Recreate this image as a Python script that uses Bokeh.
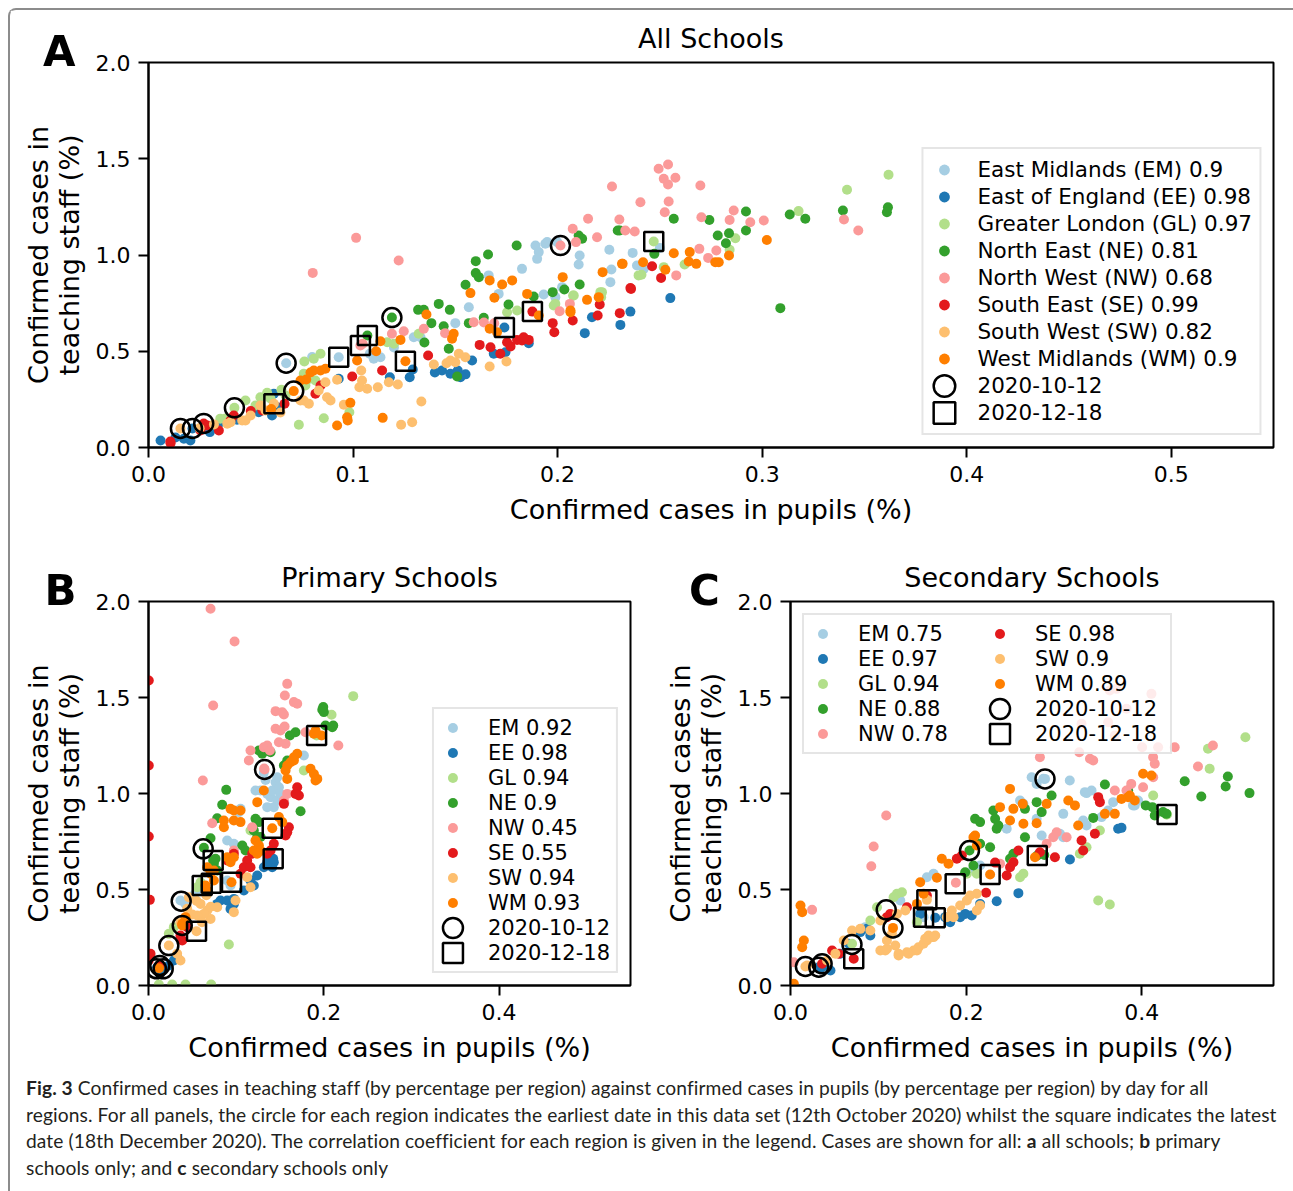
from bokeh.plotting import figure
from bokeh.models import (Range1d, FixedTicker, NumeralTickFormatter, Legend,
                          LegendItem, Div)
from bokeh.layouts import column, row
from bokeh.embed import file_html
from bokeh.resources import INLINE

# ---------------- categories / styling lookups ----------------
regions = ["EM", "EE", "GL", "NE", "NW", "SE", "SW", "WM"]
colors = ["#a6cee3", "#1f78b4", "#b2df8a", "#33a02c", "#fb9a99", "#e31a1c", "#fdbf6f", "#ff7f00"]
labels_a = ["East Midlands (EM) 0.9", "East of England (EE) 0.98", "Greater London (GL) 0.97",
            "North East (NE) 0.81", "North West (NW) 0.68", "South East (SE) 0.99",
            "South West (SW) 0.82", "West Midlands (WM) 0.9"]
labels_b = ["EM 0.92", "EE 0.98", "GL 0.94", "NE 0.9", "NW 0.45", "SE 0.55", "SW 0.94", "WM 0.93"]
labels_c = ["EM 0.75", "EE 0.97", "GL 0.94", "NE 0.88", "NW 0.78", "SE 0.98", "SW 0.9", "WM 0.89"]
date_first = "2020-10-12"
date_last = "2020-12-18"
xticks_a = [0.0, 0.1, 0.2, 0.3, 0.4, 0.5]
xticks_bc = [0.0, 0.2, 0.4]
yticks = [0.0, 0.5, 1.0, 1.5, 2.0]
panel_letters = ["A", "B", "C"]

# ---------------- Panel A: all schools ----------------
a_em_x = [0.0673, 0.093, 0.1082, 0.1134, 0.1101, 0.1297, 0.133, 0.150, 0.1566, 0.1663, 0.1712, 0.1826, 0.1892, 0.194, 0.1998, 0.1908, 0.190, 0.1932, 0.1989, 0.2022, 0.2108, 0.2103, 0.2253, 0.2263, 0.2258, 0.2367, 0.2388, 0.2421, 0.250, 0.1949, 0.080, 0.120]
a_em_y = [0.438, 0.469, 0.487, 0.469, 0.461, 0.573, 0.573, 0.646, 0.729, 0.894, 0.798, 0.928, 1.049, 1.058, 1.067, 1.015, 0.980, 0.795, 0.781, 0.833, 0.997, 0.951, 1.027, 0.925, 0.859, 1.011, 0.945, 0.928, 1.037, 1.067, 0.470, 0.520]
a_ee_x = [0.0215, 0.0173, 0.0205, 0.030, 0.0352, 0.0433, 0.0539, 0.0604, 0.0613, 0.0629, 0.093, 0.118, 0.1277, 0.1292, 0.1435, 0.1476, 0.1512, 0.1525, 0.1582, 0.1688, 0.1745, 0.1859, 0.174, 0.2133, 0.2168, 0.2307, 0.2356, 0.2551, 0.140, 0.155, 0.0059, 0.0132]
a_ee_y = [0.099, 0.045, 0.036, 0.080, 0.131, 0.144, 0.183, 0.166, 0.279, 0.209, 0.357, 0.365, 0.365, 0.405, 0.400, 0.383, 0.400, 0.365, 0.452, 0.487, 0.495, 0.542, 0.623, 0.594, 0.677, 0.637, 0.706, 0.776, 0.390, 0.380, 0.036, 0.052]
a_gl_x = [0.042, 0.0474, 0.0547, 0.058, 0.0735, 0.0857, 0.0982, 0.0759, 0.0776, 0.0762, 0.0808, 0.0841, 0.1167, 0.120, 0.1321, 0.1753, 0.1802, 0.1981, 0.1989, 0.2076, 0.2079, 0.2209, 0.2213, 0.2217, 0.2396, 0.241, 0.2519, 0.2621, 0.2841, 0.2869, 0.3178, 0.3415, 0.3618, 0.247, 0.0351, 0.065, 0.0377, 0.0523, 0.0596, 0.0670, 0.0767, 0.0816]
a_gl_y = [0.206, 0.244, 0.261, 0.284, 0.118, 0.152, 0.183, 0.383, 0.352, 0.447, 0.461, 0.487, 0.547, 0.539, 0.591, 0.703, 0.712, 0.738, 0.746, 0.790, 0.790, 0.807, 0.781, 0.807, 0.894, 0.897, 0.937, 0.951, 1.027, 1.087, 1.228, 1.339, 1.417, 1.070, 0.150, 0.300, 0.151, 0.218, 0.255, 0.270, 0.322, 0.348]
a_ne_x = [0.119, 0.107, 0.1318, 0.1346, 0.1383, 0.1419, 0.1443, 0.1473, 0.1349, 0.1468, 0.1509, 0.1566, 0.155, 0.160, 0.1615, 0.160, 0.1639, 0.166, 0.176, 0.180, 0.1883, 0.1976, 0.2033, 0.2108, 0.2103, 0.212, 0.2304, 0.2294, 0.2473, 0.2568, 0.2742, 0.2783, 0.2838, 0.2823, 0.2921, 0.2921, 0.3089, 0.3135, 0.3211, 0.3395, 0.3615, 0.361]
a_ne_y = [0.675, 0.582, 0.715, 0.715, 0.646, 0.746, 0.630, 0.715, 0.545, 0.513, 0.369, 0.646, 0.845, 0.906, 0.885, 0.968, 0.674, 1.003, 0.743, 1.049, 0.784, 0.807, 0.821, 0.847, 1.101, 1.084, 1.127, 1.127, 1.006, 1.188, 1.182, 1.101, 1.113, 1.061, 1.226, 1.127, 0.724, 1.210, 1.188, 1.231, 1.248, 1.222]
a_nw_x = [0.2014, 0.1015, 0.1223, 0.0803, 0.1047, 0.119, 0.1248, 0.1346, 0.145, 0.159, 0.164, 0.169, 0.201, 0.206, 0.209, 0.2074, 0.2149, 0.2193, 0.2302, 0.2331, 0.2377, 0.2266, 0.2405, 0.2494, 0.254, 0.2519, 0.2576, 0.254, 0.2543, 0.2524, 0.2698, 0.2703, 0.2861, 0.2841, 0.2942, 0.3008, 0.340, 0.347, 0.2693, 0.2776, 0.2736, 0.258, 0.1036]
a_nw_y = [1.049, 1.089, 0.971, 0.907, 0.539, 0.591, 0.604, 0.617, 0.594, 0.651, 0.649, 0.645, 0.708, 0.746, 1.067, 1.136, 1.188, 1.092, 1.184, 1.127, 1.122, 1.356, 1.274, 1.448, 1.470, 1.396, 1.401, 1.366, 1.278, 1.222, 1.361, 1.196, 1.231, 1.182, 1.170, 1.179, 1.184, 1.127, 1.032, 1.023, 0.985, 0.894, 0.530]
a_se_x = [0.027, 0.0108, 0.0287, 0.0344, 0.0417, 0.0665, 0.0816, 0.0841, 0.0996, 0.1142, 0.1367, 0.1619, 0.1672, 0.172, 0.177, 0.1753, 0.1802, 0.1826, 0.1859, 0.1834, 0.1877, 0.1976, 0.1984, 0.2074, 0.2196, 0.2206, 0.2304, 0.2356, 0.2359, 0.2462, 0.2506, 0.050, 0.0107, 0.0254, 0.0401, 0.0557]
a_se_y = [0.125, 0.022, 0.114, 0.088, 0.166, 0.227, 0.279, 0.322, 0.369, 0.400, 0.478, 0.533, 0.521, 0.487, 0.525, 0.547, 0.559, 0.556, 0.559, 0.573, 0.706, 0.646, 0.599, 0.660, 0.686, 0.743, 0.698, 0.828, 0.824, 0.942, 0.881, 0.190, 0.031, 0.088, 0.140, 0.192]
a_sw_x = [0.0156, 0.0385, 0.0401, 0.0458, 0.0499, 0.0547, 0.0613, 0.0759, 0.0784, 0.089, 0.0873, 0.0832, 0.0865, 0.0922, 0.0955, 0.1031, 0.1044, 0.104, 0.1069, 0.1121, 0.1175, 0.1219, 0.1235, 0.1289, 0.1334, 0.1395, 0.1457, 0.150, 0.1476, 0.1517, 0.1549, 0.1668, 0.175, 0.025, 0.032, 0.0474, 0.0572, 0.0645, 0.0743]
a_sw_y = [0.099, 0.123, 0.131, 0.140, 0.166, 0.218, 0.227, 0.244, 0.227, 0.244, 0.261, 0.296, 0.339, 0.352, 0.222, 0.313, 0.348, 0.400, 0.305, 0.313, 0.339, 0.327, 0.118, 0.131, 0.239, 0.431, 0.438, 0.443, 0.452, 0.487, 0.469, 0.421, 0.447, 0.100, 0.120, 0.140, 0.192, 0.182, 0.244]
a_wm_x = [0.071, 0.0771, 0.0808, 0.0865, 0.0922, 0.0971, 0.0974, 0.0987, 0.102, 0.1113, 0.1134, 0.1145, 0.1232, 0.1256, 0.1359, 0.1484, 0.1492, 0.1574, 0.1668, 0.1691, 0.1704, 0.1668, 0.1729, 0.1778, 0.1851, 0.1908, 0.2025, 0.2063, 0.2063, 0.2144, 0.2201, 0.222, 0.2315, 0.2318, 0.2418, 0.2527, 0.2568, 0.2641, 0.2646, 0.2678, 0.2771, 0.2788, 0.2838, 0.3023, 0.060, 0.0743, 0.0792, 0.0841]
a_wm_y = [0.293, 0.353, 0.400, 0.409, 0.114, 0.157, 0.140, 0.232, 0.452, 0.500, 0.552, 0.154, 0.559, 0.448, 0.691, 0.565, 0.591, 0.802, 0.868, 0.778, 0.599, 0.617, 0.847, 0.868, 0.798, 0.686, 0.885, 0.703, 0.712, 0.767, 0.781, 0.911, 0.954, 0.954, 0.962, 0.923, 1.009, 0.966, 1.015, 0.954, 0.962, 0.962, 0.997, 1.078, 0.200, 0.348, 0.390, 0.400]
a_first_x = [0.0673, 0.0215, 0.042, 0.119, 0.2014, 0.027, 0.0156, 0.071]
a_first_y = [0.438, 0.099, 0.206, 0.675, 1.049, 0.125, 0.099, 0.293]
a_last_x = [0.093, 0.174, 0.247, 0.107, 0.1036, 0.1877, 0.0613, 0.1256]
a_last_y = [0.469, 0.623, 1.070, 0.582, 0.530, 0.706, 0.227, 0.448]

# ---------------- Panel B: primary schools ----------------
b_em_x = [0.0898, 0.0974, 0.105, 0.1031, 0.0365, 0.0422, 0.1221, 0.1279, 0.1355, 0.1393, 0.143, 0.1469, 0.1412, 0.145, 0.1469, 0.1488, 0.1355, 0.1316, 0.1336, 0.1773, 0.0898, 0.0936, 0.059, 0.0527, 0.150, 0.155]
b_em_y = [0.755, 0.738, 0.921, 0.903, 0.443, 0.425, 1.016, 1.016, 0.998, 0.981, 0.929, 0.964, 1.016, 1.059, 1.085, 1.033, 0.929, 1.110, 1.070, 1.198, 0.547, 0.521, 0.500, 0.475, 1.000, 0.950]
b_ee_x = [0.143, 0.1412, 0.1355, 0.1317, 0.0822, 0.0898, 0.0974, 0.0936, 0.0974, 0.0784, 0.1164, 0.1241, 0.1202, 0.1088, 0.0099, 0.0137, 0.0232, 0.0289, 0.0327, 0.1423]
b_ee_y = [0.642, 0.616, 0.642, 0.616, 0.443, 0.443, 0.425, 0.399, 0.451, 0.425, 0.547, 0.573, 0.521, 0.495, 0.095, 0.078, 0.104, 0.130, 0.147, 0.660]
b_gl_x = [0.2336, 0.2089, 0.0917, 0.0715, 0.0422, 0.027, 0.0118, 0.0556, 0.0594, 0.0232, 0.0289, 0.1164, 0.1888, 0.1773, 0.1918]
b_gl_y = [1.507, 1.410, 0.214, 0.005, 0.005, 0.005, 0.005, 0.512, 0.538, 0.269, 0.304, 0.807, 1.311, 1.120, 1.302]
b_ne_x = [0.1994, 0.2001, 0.1983, 0.2097, 0.202, 0.2108, 0.1678, 0.1613, 0.1583, 0.1545, 0.1735, 0.1393, 0.1298, 0.1259, 0.0887, 0.0841, 0.0784, 0.0708, 0.0632, 0.0765, 0.0746, 0.0784, 0.1221, 0.126, 0.107, 0.1107, 0.1202, 0.1241, 0.1279, 0.0738]
b_ne_y = [1.450, 1.424, 1.436, 1.345, 1.354, 1.354, 1.319, 1.302, 1.172, 1.146, 0.908, 1.215, 1.207, 1.224, 1.019, 0.941, 0.871, 0.767, 0.717, 0.660, 0.634, 0.599, 0.868, 0.851, 0.729, 0.703, 0.807, 0.773, 0.773, 0.651]
b_nw_x = [0.0708, 0.0982, 0.0738, 0.062, 0.1583, 0.1556, 0.1659, 0.1697, 0.145, 0.1545, 0.1526, 0.145, 0.1553, 0.1507, 0.1488, 0.1564, 0.1316, 0.1355, 0.1385, 0.1164, 0.1145, 0.2166, 0.1792, 0.0727, 0.132, 0.1583, 0.1545, 0.1183, 0.0974, 0.1324]
b_nw_y = [1.962, 1.792, 1.458, 1.068, 1.571, 1.510, 1.476, 1.467, 1.429, 1.411, 1.423, 1.337, 1.349, 1.328, 1.267, 1.259, 1.241, 1.250, 1.224, 1.224, 1.172, 1.250, 1.319, 0.845, 1.130, 0.998, 0.963, 0.824, 0.703, 1.125]
b_se_x = [0.0003, 0.0003, 0.0003, 0.0015, 0.0023, 0.1697, 0.1716, 0.1678, 0.1545, 0.1602, 0.1583, 0.1564, 0.143, 0.1393, 0.1355, 0.1183, 0.1126, 0.1088, 0.1164, 0.105, 0.0898, 0.0974, 0.0442, 0.0385, 0.0365, 0.0003, 0.0129]
b_se_y = [1.589, 1.146, 0.776, 0.446, 0.165, 1.033, 0.990, 0.998, 0.946, 0.824, 0.798, 0.781, 0.738, 0.703, 0.686, 0.686, 0.651, 0.616, 0.616, 0.582, 0.651, 0.686, 0.304, 0.234, 0.260, 0.130, 0.104]
b_sw_x = [0.0594, 0.067, 0.0708, 0.0632, 0.0556, 0.0993, 0.0974, 0.0784, 0.0365, 0.0327, 0.0548, 0.0365, 0.0442, 0.1126, 0.1164, 0.0232, 0.046, 0.055, 0.066, 0.071, 0.050, 0.061]
b_sw_y = [0.425, 0.391, 0.347, 0.373, 0.365, 0.443, 0.382, 0.408, 0.130, 0.165, 0.283, 0.330, 0.400, 0.564, 0.512, 0.208, 0.460, 0.440, 0.470, 0.410, 0.370, 0.330]
b_wm_x = [0.1975, 0.1888, 0.1906, 0.1697, 0.1659, 0.1621, 0.1583, 0.1659, 0.1564, 0.1583, 0.1849, 0.1888, 0.1926, 0.1906, 0.1316, 0.1241, 0.1488, 0.1526, 0.1221, 0.126, 0.1202, 0.1279, 0.1241, 0.0936, 0.0974, 0.105, 0.105, 0.0974, 0.086, 0.086, 0.0898, 0.0936, 0.0974, 0.067, 0.0708, 0.0746, 0.0746, 0.0651, 0.067, 0.0947, 0.0385, 0.0422, 0.012, 0.1412, 0.0385]
b_wm_y = [1.302, 1.311, 1.328, 1.207, 1.189, 1.163, 1.146, 1.172, 1.120, 1.076, 1.129, 1.102, 1.076, 1.068, 1.016, 0.955, 0.877, 0.851, 0.755, 0.729, 0.703, 0.703, 0.686, 0.920, 0.911, 0.911, 0.851, 0.859, 0.824, 0.859, 0.668, 0.642, 0.668, 0.616, 0.582, 0.599, 0.547, 0.521, 0.495, 0.538, 0.321, 0.356, 0.090, 0.819, 0.313]
b_first_x = [0.0373, 0.0168, 0.0232, 0.0624, 0.1324, 0.0129, 0.0091, 0.0385]
b_first_y = [0.439, 0.087, 0.208, 0.712, 1.125, 0.104, 0.087, 0.313]
b_last_x = [0.0716, 0.1423, 0.1918, 0.0738, 0.0613, 0.0947, 0.0548, 0.1412]
b_last_y = [0.533, 0.660, 1.302, 0.651, 0.521, 0.538, 0.283, 0.819]

# ---------------- Panel C: secondary schools ----------------
c_em_x = [0.2746, 0.2803, 0.318, 0.3352, 0.3428, 0.3106, 0.3542, 0.390, 0.3958, 0.2614, 0.2652, 0.2462, 0.2803, 0.286, 0.3068, 0.3106, 0.2159, 0.2083, 0.1629, 0.1553, 0.125, 0.0852, 0.3333, 0.3371, 0.3674, 0.3617, 0.2879, 0.3371, 0.392, 0.2898, 0.1515]
c_em_y = [1.085, 1.050, 1.068, 1.007, 1.016, 0.894, 0.877, 0.938, 0.964, 0.964, 0.946, 0.816, 0.868, 0.781, 0.790, 0.772, 0.625, 0.608, 0.582, 0.564, 0.443, 0.304, 0.859, 0.833, 0.955, 0.911, 1.077, 1.002, 0.938, 1.076, 0.356]
c_ee_x = [0.2595, 0.2348, 0.1989, 0.2064, 0.1932, 0.1818, 0.1761, 0.3182, 0.3731, 0.3769, 0.1477, 0.0871, 0.0795, 0.0909, 0.0663, 0.0568, 0.036, 0.0455, 0.2159, 0.1648, 0.0322]
c_ee_y = [0.481, 0.439, 0.373, 0.365, 0.356, 0.330, 0.356, 0.656, 0.816, 0.821, 0.373, 0.295, 0.278, 0.260, 0.217, 0.165, 0.095, 0.078, 0.425, 0.353, 0.095]
c_gl_x = [0.3504, 0.3636, 0.4754, 0.4773, 0.413, 0.428, 0.3523, 0.3295, 0.3371, 0.2614, 0.2652, 0.2121, 0.2008, 0.1212, 0.1269, 0.1174, 0.0985, 0.0909, 0.144, 0.0701, 0.518, 0.4288]
c_gl_y = [0.443, 0.422, 1.233, 1.129, 0.990, 0.891, 0.807, 0.686, 0.720, 0.564, 0.582, 0.582, 0.582, 0.478, 0.486, 0.460, 0.408, 0.339, 0.330, 0.217, 1.293, 0.891]
c_ne_x = [0.5227, 0.498, 0.4955, 0.4678, 0.4489, 0.4045, 0.4148, 0.4242, 0.358, 0.3845, 0.3447, 0.2973, 0.2803, 0.286, 0.267, 0.231, 0.233, 0.2348, 0.2367, 0.2102, 0.2159, 0.267, 0.2273, 0.2159, 0.1989, 0.2083, 0.2538, 0.25, 0.289, 0.4121, 0.428, 0.2038, 0.281]
c_ne_y = [1.002, 1.089, 1.036, 0.984, 1.064, 0.938, 0.885, 0.903, 1.047, 1.016, 0.873, 0.990, 0.955, 0.903, 0.920, 0.911, 0.868, 0.816, 0.833, 0.868, 0.851, 0.772, 0.720, 0.738, 0.590, 0.625, 0.686, 0.660, 0.680, 0.929, 0.894, 0.703, 0.677]
c_nw_x = [0.109, 0.0947, 0.092, 0.0246, 0.0038, 0.284, 0.3288, 0.341, 0.3447, 0.4004, 0.4186, 0.4129, 0.4148, 0.4375, 0.481, 0.464, 0.388, 0.4015, 0.413, 0.3693, 0.3826, 0.3031, 0.3144, 0.2992, 0.2917, 0.2386, 0.2538, 0.1883, 0.3636, 0.3712, 0.3826, 0.411, 0.3314, 0.3617, 0.3693]
c_nw_y = [0.885, 0.724, 0.621, 0.394, 0.121, 1.189, 1.215, 1.181, 1.172, 1.241, 1.241, 1.189, 1.155, 1.241, 1.250, 1.141, 1.050, 1.033, 1.085, 1.016, 1.016, 0.798, 0.772, 0.772, 0.738, 0.634, 0.642, 0.535, 1.536, 1.545, 1.441, 1.519, 1.363, 1.371, 1.302]
c_se_x = [0.3504, 0.3523, 0.3314, 0.3333, 0.3466, 0.3011, 0.2595, 0.2538, 0.25, 0.2462, 0.233, 0.2227, 0.1894, 0.1951, 0.1553, 0.1326, 0.1136, 0.1098, 0.0474, 0.0549, 0.284, 0.036, 0.072]
c_se_y = [0.981, 0.955, 0.755, 0.703, 0.790, 0.668, 0.703, 0.642, 0.616, 0.573, 0.640, 0.483, 0.660, 0.677, 0.469, 0.408, 0.373, 0.356, 0.182, 0.165, 0.694, 0.113, 0.139]
c_sw_x = [0.1023, 0.1099, 0.1193, 0.1231, 0.1326, 0.1402, 0.1458, 0.1553, 0.161, 0.1648, 0.1837, 0.1932, 0.2008, 0.2045, 0.2121, 0.2159, 0.2121, 0.1023, 0.0909, 0.0795, 0.0701, 0.0606, 0.0511, 0.0417, 0.019, 0.1307, 0.1212, 0.178, 0.1856, 0.1155, 0.1098, 0.108, 0.1231, 0.1345, 0.144, 0.1515, 0.1572, 0.1629, 0.1534, 0.017, 0.1553]
c_sw_y = [0.182, 0.191, 0.208, 0.165, 0.173, 0.182, 0.199, 0.234, 0.252, 0.260, 0.391, 0.417, 0.443, 0.469, 0.391, 0.417, 0.478, 0.339, 0.286, 0.295, 0.286, 0.234, 0.165, 0.130, 0.104, 0.391, 0.373, 0.356, 0.356, 0.269, 0.234, 0.182, 0.156, 0.165, 0.182, 0.217, 0.260, 0.252, 0.243, 0.099, 0.446]
c_wm_x = [0.25, 0.2386, 0.25, 0.2652, 0.4015, 0.411, 0.3769, 0.3845, 0.392, 0.3163, 0.3239, 0.2917, 0.358, 0.3693, 0.3276, 0.2102, 0.2784, 0.1723, 0.1799, 0.1667, 0.1477, 0.0114, 0.0133, 0.0152, 0.0133, 0.0038, 0.2538, 0.2644, 0.2803, 0.2083, 0.2121, 0.1515, 0.144, 0.3864, 0.1167, 0.2273]
c_wm_y = [1.024, 0.929, 0.859, 0.842, 1.103, 1.094, 0.972, 0.981, 0.964, 0.964, 0.938, 0.946, 0.894, 0.894, 0.833, 0.781, 0.668, 0.660, 0.634, 0.561, 0.538, 0.417, 0.382, 0.234, 0.199, 0.009, 0.920, 0.946, 0.845, 0.772, 0.729, 0.478, 0.425, 0.990, 0.300, 0.578]
c_first_x = [0.2898, 0.0322, 0.070, 0.2038, 0.109, 0.036, 0.017, 0.1167]
c_first_y = [1.076, 0.095, 0.214, 0.703, 0.394, 0.113, 0.099, 0.300]
c_last_x = [0.1515, 0.1648, 0.4288, 0.281, 0.1875, 0.072, 0.1553, 0.2273]
c_last_y = [0.356, 0.353, 0.891, 0.677, 0.530, 0.139, 0.446, 0.578]

caption_lines = [
    "<b>Fig. 3</b> Confirmed cases in teaching staff (by percentage per region) against confirmed cases in pupils (by percentage per region) by day for all",
    "regions. For all panels, the circle for each region indicates the earliest date in this data set (12th October 2020) whilst the square indicates the latest",
    "date (18th December 2020). The correlation coefficient for each region is given in the legend. Cases are shown for all: <b>a</b> all schools; <b>b</b> primary",
    "schools only; and <b>c</b> secondary schools only",
]

FONT = "DejaVu Sans"


def make_panel(width, height, bl, br, bt, bb, title, xticks,
               xs, ys, fx, fy, lx, ly, labels, legend_loc, legend_font, item_h,
               pad, label_standoff, ncols=1, label_width=20):
    p = figure(width=width, height=height, output_backend="svg", toolbar_location=None,
               tools="", x_range=Range1d(0, 0.55), y_range=Range1d(0, 2.0),
               min_border_left=bl, min_border_right=br, min_border_top=bt,
               min_border_bottom=bb)
    p.background_fill_color = "white"
    p.border_fill_color = "white"
    p.title.text = title
    p.title.align = "center"
    p.title.text_font = FONT
    p.title.text_font_size = "27px"
    p.title.text_font_style = "normal"
    p.title.text_color = "black"
    p.title.standoff = 17
    p.xgrid.visible = False
    p.ygrid.visible = False
    p.outline_line_color = "black"
    p.outline_line_width = 2
    p.outline_line_alpha = 1.0
    for ax in (p.xaxis[0], p.yaxis[0]):
        ax.axis_line_width = 2
        ax.axis_line_color = "black"
        ax.major_tick_line_width = 2
        ax.major_tick_line_color = "black"
        ax.major_tick_in = 0
        ax.major_tick_out = 10
        ax.minor_tick_line_color = None
        ax.major_label_text_font = FONT
        ax.major_label_text_font_size = "22px"
        ax.major_label_text_color = "black"
        ax.formatter = NumeralTickFormatter(format="0.0")
        ax.axis_label_text_font = FONT
        ax.axis_label_text_font_size = "27px"
        ax.axis_label_text_font_style = "normal"
        ax.axis_label_text_color = "black"
    p.xaxis.ticker = FixedTicker(ticks=xticks)
    p.yaxis.ticker = FixedTicker(ticks=yticks)
    p.xaxis.major_label_standoff = 8
    p.yaxis.major_label_standoff = 8
    p.xaxis.axis_label = "Confirmed cases in pupils (%)"
    p.xaxis.axis_label_standoff = 9
    p.yaxis.axis_label = "Confirmed cases in\nteaching staff (%)"
    p.yaxis.axis_label_text_line_height = 1.0
    p.yaxis.axis_label_standoff = 8

    items = []
    for i in range(len(regions)):
        r = p.scatter(xs[i], ys[i], size=10, marker="circle", fill_color=colors[i],
                      line_color=None)
        items.append(LegendItem(label=labels[i], renderers=[r]))
    p.scatter(fx, fy, marker="circle", size=19, fill_color=None, line_color="black",
              line_width=2.5)
    p.scatter(lx, ly, marker="square", size=19, fill_color=None, line_color="black",
              line_width=2.5)
    # legend-only glyphs (placed outside the visible range)
    rc = p.ellipse(x=[-1.0], y=[-1.0], width=20, height=20, width_units="screen",
                   height_units="screen", fill_color=None, line_color="black", line_width=2.5)
    rs = p.rect(x=[-1.0], y=[-1.0], width=20, height=20, width_units="screen",
                height_units="screen", fill_color=None, line_color="black", line_width=2.5)
    items.append(LegendItem(label=date_first, renderers=[rc]))
    items.append(LegendItem(label=date_last, renderers=[rs]))

    kw = {}
    if ncols > 1:
        kw["ncols"] = ncols
    leg = Legend(items=items, location=legend_loc, margin=12, padding=pad, spacing=0,
                 glyph_width=item_h, glyph_height=item_h, label_height=item_h,
                 label_width=label_width,
                 label_standoff=label_standoff, label_text_font=FONT,
                 label_text_font_size=legend_font, label_text_color="black",
                 border_line_color="#cccccc", border_line_width=2,
                 background_fill_color="white", background_fill_alpha=0.8, **kw)
    p.add_layout(leg)
    return p


pA = make_panel(1283, 525, 138, 20, 52, 88, "All Schools", xticks_a,
                [a_em_x, a_ee_x, a_gl_x, a_ne_x, a_nw_x, a_se_x, a_sw_x, a_wm_x],
                [a_em_y, a_ee_y, a_gl_y, a_ne_y, a_nw_y, a_se_y, a_sw_y, a_wm_y],
                a_first_x, a_first_y, a_last_x, a_last_y, labels_a,
                "bottom_right", "21.5px", 27, 7, 20)
pB = make_panel(642, 535, 138, 22, 66, 85, "Primary Schools", xticks_bc,
                [b_em_x, b_ee_x, b_gl_x, b_ne_x, b_nw_x, b_se_x, b_sw_x, b_wm_x],
                [b_em_y, b_ee_y, b_gl_y, b_ne_y, b_nw_y, b_se_y, b_sw_y, b_wm_y],
                b_first_x, b_first_y, b_last_x, b_last_y, labels_b,
                "bottom_right", "21px", 25, 6, 23)
pC = make_panel(641, 535, 138, 20, 66, 85, "Secondary Schools", xticks_bc,
                [c_em_x, c_ee_x, c_gl_x, c_ne_x, c_nw_x, c_se_x, c_sw_x, c_wm_x],
                [c_em_y, c_ee_y, c_gl_y, c_ne_y, c_nw_y, c_se_y, c_sw_y, c_wm_y],
                c_first_x, c_first_y, c_last_x, c_last_y, labels_c,
                "top_left", "21px", 25, 6, 23, ncols=2, label_width=129)

# panel letters (page coordinates) + caption
letter_pos = [(43, 31), (44.5, 569.5), (689, 569.5)]
letters_html = "".join(
    '<div style="position: fixed; left: %spx; top: %spx; font-family: \'DejaVu Sans\'; '
    'font-weight: bold; font-size: 42px; line-height: 42px; color: black; z-index: 10;">%s</div>'
    % (lx, ly, t) for (lx, ly), t in zip(letter_pos, panel_letters))
cap_html = (letters_html +
            '<div style="font-family: Lato, \'Open Sans\', sans-serif; font-size: 19.2px; '
            'letter-spacing: 0.1px; line-height: 26.7px; color: #231f20; '
            'padding: 0px 0 0 11px; white-space: nowrap;">'
            + "<br>".join(caption_lines) + "</div>")
cap = Div(text=cap_html, width=1283, height=121)

page = column(pA, row(pB, pC), cap,
              styles={"margin-left": "8px", "margin-top": "8px",
                      "border-left": "2px solid #8c8c8c", "border-top": "2px solid #8c8c8c",
                      "border-top-left-radius": "8px", "background-color": "white"})

open("out.html", "w").write(file_html(page, INLINE))
